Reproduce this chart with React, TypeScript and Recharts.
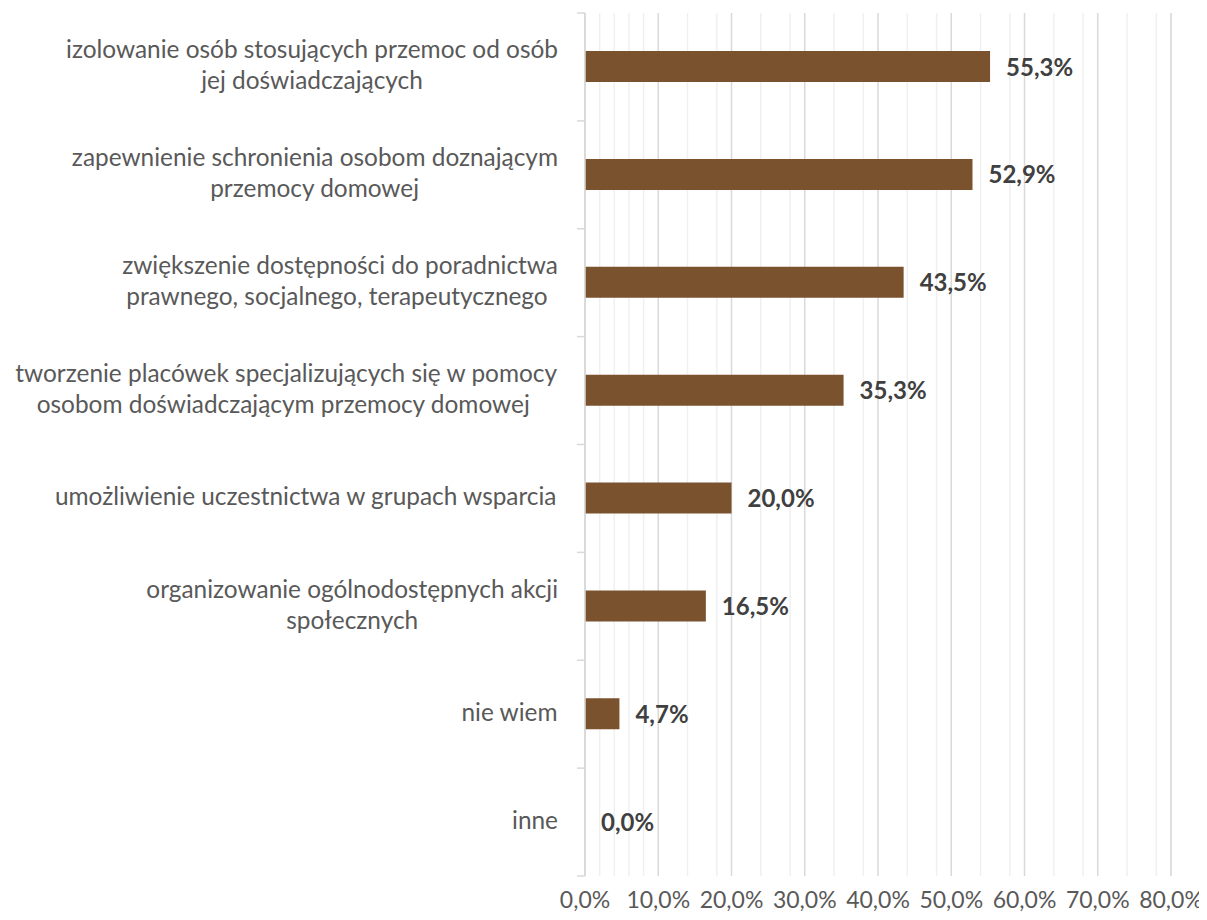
import React from 'react';
import { ComposedChart, Bar, Scatter, XAxis, YAxis, CartesianGrid } from 'recharts';

const categories = [
  'izolowanie osób stosujących przemoc od osób\njej doświadczających',
  'zapewnienie schronienia osobom doznającym\nprzemocy domowej',
  'zwiększenie dostępności do poradnictwa\nprawnego, socjalnego, terapeutycznego ',
  'tworzenie placówek specjalizujących się w pomocy\nosobom doświadczającym przemocy domowej ',
  'umożliwienie uczestnictwa w grupach wsparcia',
  'organizowanie ogólnodostępnych akcji\nspołecznych',
  'nie wiem',
  'inne',
];
const values = [55.3, 52.9, 43.5, 35.3, 20.0, 16.5, 4.7, 0.0];
const majorTicks = [0, 10, 20, 30, 40, 50, 60, 70, 80];
const minorTicks = [
  2, 4, 6, 8, 12, 14, 16, 18, 22, 24, 26, 28, 32, 34, 36, 38,
  42, 44, 46, 48, 52, 54, 56, 58, 62, 64, 66, 68, 72, 74, 76, 78,
];

const data = categories.map((name, i) => ({ name, value: values[i] }));

const W = 1199;
const H = 904;
const M_TOP = 5;
const M_RIGHT = 36;
const Y_W = 577;
const X_H = 36;
const AXIS_X = Y_W;
const PLOT_BOTTOM = H - X_H;
const PLOT_H = PLOT_BOTTOM - M_TOP;
const BAND = PLOT_H / categories.length;

const FONT = 'Lato, "Open Sans", sans-serif';
const CAT_SIZE = 24.4;
const LINE_H = 31;

const fmt = (v: number) => v.toFixed(1).replace('.', ',') + '%';

let ctx: CanvasRenderingContext2D | null = null;
function measure(text: string, font: string): number {
  if (!ctx) ctx = document.createElement('canvas').getContext('2d');
  if (!ctx) return text.length * 12;
  ctx.font = font;
  return ctx.measureText(text).width;
}

const CatTick = (props: any) => {
  const { y, payload, index } = props;
  const lines: string[] = String(payload.value).split('\n');
  const font = `${CAT_SIZE}px Lato`;
  const widths = lines.map((l) => measure(l, font));
  const maxW = Math.max(...widths);
  const right = AXIS_X - 27;
  const center = right - maxW / 2;
  const n = lines.length;
  return (
    <g>
      <line x1={AXIS_X - 8} x2={AXIS_X} y1={y - BAND / 2} y2={y - BAND / 2} stroke="#D9D9D9" strokeWidth={1.5} />
      {index === categories.length - 1 && (
        <line x1={AXIS_X - 8} x2={AXIS_X} y1={y + BAND / 2} y2={y + BAND / 2} stroke="#D9D9D9" strokeWidth={1.5} />
      )}
      {lines.map((l, i) => (
        <text
          key={i}
          x={center - widths[i] / 2}
          y={y + (i - (n - 1) / 2) * LINE_H + 7}
          textAnchor="start"
          fontFamily={FONT}
          fontSize={CAT_SIZE}
          fill="#595959"
          style={{ whiteSpace: 'pre' }}
        >
          {l}
        </text>
      ))}
    </g>
  );
};

const XTick = (props: any) => {
  const { x, payload } = props;
  return (
    <text x={x} y={PLOT_BOTTOM + 32} textAnchor="middle" fontFamily={FONT} fontSize={23} fill="#595959">
      {fmt(payload.value)}
    </text>
  );
};

const ValueLabel = (props: any) => {
  const { cx, cy, payload } = props;
  if (cx == null || cy == null) return null;
  return (
    <text
      x={cx + 16}
      y={cy}
      dy="0.36em"
      textAnchor="start"
      fontFamily={FONT}
      fontSize={24}
      fontWeight={700}
      fill="#404040"
    >
      {fmt(payload.value)}
    </text>
  );
};

export default function App() {
  return (
    <div style={{ width: W, height: H }}>
      <ComposedChart
        width={W}
        height={H}
        data={data}
        layout="vertical"
        margin={{ top: M_TOP, right: M_RIGHT, bottom: 0, left: 0 }}
      >
        <CartesianGrid xAxisId="minor" horizontal={false} stroke="#F0F0F0" strokeWidth={1.5} />
        <CartesianGrid xAxisId="major" horizontal={false} stroke="#D9D9D9" strokeWidth={1.5} />
        <XAxis
          xAxisId="minor"
          type="number"
          dataKey="value"
          domain={[0, 80]}
          ticks={minorTicks}
          allowDataOverflow
          hide
        />
        <XAxis
          xAxisId="major"
          type="number"
          dataKey="value"
          domain={[0, 80]}
          ticks={majorTicks}
          interval={0}
          allowDataOverflow
          axisLine={false}
          tickLine={false}
          height={X_H}
          tick={<XTick />}
        />
        <YAxis
          type="category"
          dataKey="name"
          width={Y_W}
          interval={0}
          axisLine={{ stroke: '#D9D9D9', strokeWidth: 1.5 }}
          tickLine={false}
          tick={<CatTick />}
        />
        <Bar dataKey="value" xAxisId="major" fill="#7B522E" barSize={31} isAnimationActive={false} />
        <Scatter dataKey="value" xAxisId="major" shape={<ValueLabel />} isAnimationActive={false} />
      </ComposedChart>
    </div>
  );
}
